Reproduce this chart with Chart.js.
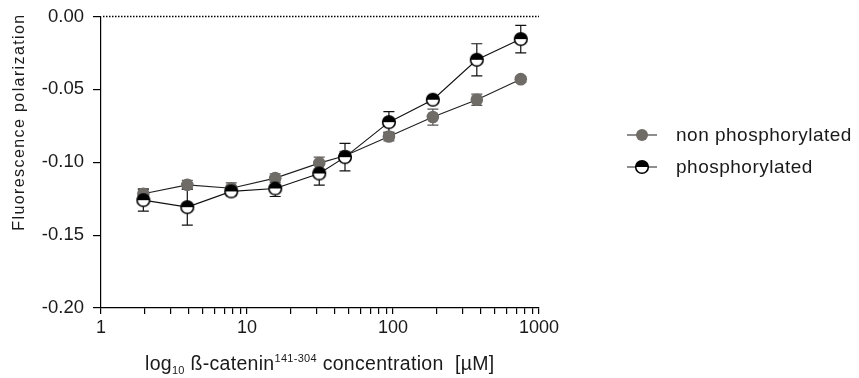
<!DOCTYPE html>
<html><head><meta charset="utf-8">
<script src="https://cdn.jsdelivr.net/npm/chart.js@4.4.1/dist/chart.umd.min.js"></script>
<style>html,body{margin:0;padding:0;background:#fff;}#wrap{width:859px;height:378px;}</style>
</head><body><div id="wrap"><canvas id="c" width="859" height="378"></canvas></div>
<script>
// ---- data ----
const concentrations = [1.95, 3.9, 7.8, 15.6, 31.25, 46.9, 93.75, 187.5, 375, 750];
const nonPhosValues  = [-0.1216, -0.1155, -0.1178, -0.1109, -0.1006, -0.0955, -0.0823, -0.0690, -0.0571, -0.0430];
const nonPhosErrors  = [0.0032, 0.0030, 0.0036, 0.0030, 0.0041, 0.0030, 0.0030, 0.0055, 0.0039, 0.0020];
const phosValues     = [-0.1260, -0.1308, -0.1200, -0.1180, -0.1077, -0.0965, -0.0725, -0.0571, -0.0297, -0.0155];
const phosErrors     = [0.0075, 0.0124, 0.0030, 0.0055, 0.0080, 0.0094, 0.0073, 0.0020, 0.0110, 0.0094];
const seriesLabels   = ['non phosphorylated', 'phosphorylated'];
const xTickLabels    = [1, 10, 100, 1000];
const yTickValues    = [0, -0.05, -0.10, -0.15, -0.20];

const FONT = "'Liberation Sans', Arial, sans-serif";
const GRAY = '#6f6b67';
const TEXT = '#1a1a1a';

// half-filled marker image
function makeHalfMarker(r) {
  const s = Math.ceil(r * 2 + 3);
  const cv = document.createElement('canvas');
  cv.width = s; cv.height = s;
  const g = cv.getContext('2d');
  const c = s / 2;
  g.beginPath(); g.arc(c, c, r, 0, Math.PI * 2); g.fillStyle = '#fff'; g.fill();
  g.beginPath(); g.arc(c, c, r, Math.PI, Math.PI * 2); g.closePath(); g.fillStyle = '#000'; g.fill();
  g.beginPath(); g.arc(c, c, r, 0, Math.PI * 2); g.lineWidth = 1.6; g.strokeStyle = '#000'; g.stroke();
  return cv;
}
const halfMarker = makeHalfMarker(6.3);

const errorBars = {
  id: 'errorBars',
  beforeDatasetsDraw(chart) {
    const ctx = chart.ctx, ys = chart.scales.y;
    chart.data.datasets.forEach((ds, di) => {
      const meta = chart.getDatasetMeta(di);
      ctx.save();
      ctx.strokeStyle = ds.errorColor; ctx.lineWidth = 1.2;
      meta.data.forEach((pt, i) => {
        const v = ds.data[i].y, e = ds.errors[i];
        const y1 = ys.getPixelForValue(v + e), y2 = ys.getPixelForValue(v - e);
        const x = pt.x;
        ctx.beginPath();
        ctx.moveTo(x, y1); ctx.lineTo(x, y2);
        ctx.moveTo(x - 5.5, y1); ctx.lineTo(x + 5.5, y1);
        ctx.moveTo(x - 5.5, y2); ctx.lineTo(x + 5.5, y2);
        ctx.stroke();
      });
      ctx.restore();
    });
  }
};

const decorations = {
  id: 'decorations',
  afterDraw(chart) {
    const ctx = chart.ctx, ca = chart.chartArea, ys = chart.scales.y;
    // dotted zero line
    ctx.save();
    const y0 = ys.getPixelForValue(0);
    ctx.strokeStyle = '#000'; ctx.lineWidth = 1.6; ctx.setLineDash([1.5, 1.5]);
    ctx.beginPath(); ctx.moveTo(ca.left + 2, y0); ctx.lineTo(ca.right, y0); ctx.stroke();
    ctx.restore();

    // y title
    ctx.save();
    ctx.translate(20, 122);
    ctx.rotate(-Math.PI / 2);
    ctx.font = '16px ' + FONT; ctx.fillStyle = TEXT;
    ctx.letterSpacing = '1.4px';
    ctx.textAlign = 'center'; ctx.textBaseline = 'middle';
    ctx.fillText('Fluorescence polarization', 0, 0);
    ctx.restore();

    // x title with sub/superscript
    ctx.save();
    ctx.fillStyle = TEXT; ctx.textBaseline = 'alphabetic';
    let x = 145; const base = 370;
    const seg = (t, size, dy, sp) => {
      ctx.font = size + 'px ' + FONT;
      ctx.letterSpacing = sp + 'px';
      ctx.fillText(t, x, base + dy);
      x += ctx.measureText(t).width;
    };
    seg('log', 19.5, 0, 0.3);
    seg('10', 11, 4, 0.3);
    seg(' ß-catenin', 19.5, 0, 0.3);
    seg('141-304', 11, -8, 0.3);
    seg(' concentration  [µM]', 19.5, 0, 0.3);
    ctx.restore();

    // legend
    ctx.save();
    chart.data.datasets.forEach((ds, i) => {
      const ry = 135 + i * 32;
      ctx.strokeStyle = '#444'; ctx.lineWidth = 1.2;
      ctx.beginPath(); ctx.moveTo(627, ry); ctx.lineTo(657, ry); ctx.stroke();
      if (ds.pointStyle === 'circle') {
        ctx.beginPath(); ctx.arc(642, ry, 6, 0, Math.PI * 2);
        ctx.fillStyle = ds.pointBackgroundColor; ctx.fill();
      } else {
        ctx.drawImage(ds.pointStyle, 642 - ds.pointStyle.width / 2, ry - ds.pointStyle.height / 2);
      }
      ctx.font = '19px ' + FONT; ctx.fillStyle = TEXT;
      ctx.letterSpacing = '0.5px';
      ctx.textBaseline = 'middle'; ctx.textAlign = 'left';
      ctx.fillText(ds.label, 676, ry + 1);
      ctx.letterSpacing = '0px';
    });
    ctx.restore();
  }
};

const toPts = (vals) => vals.map((v, i) => ({ x: concentrations[i], y: v }));

new Chart(document.getElementById('c'), {
  type: 'line',
  data: {
    datasets: [
      {
        label: seriesLabels[0], data: toPts(nonPhosValues), errors: nonPhosErrors, errorColor: '#555',
        borderColor: '#222', borderWidth: 1.1, pointStyle: 'circle', pointRadius: 6.3,
        pointBackgroundColor: GRAY, pointBorderColor: GRAY, pointBorderWidth: 0, order: 1, tension: 0
      },
      {
        label: seriesLabels[1], data: toPts(phosValues), errors: phosErrors, errorColor: '#111',
        borderColor: '#111', borderWidth: 1.1, pointStyle: halfMarker, pointRadius: 6.3, order: 0, tension: 0
      }
    ]
  },
  options: {
    responsive: false, devicePixelRatio: 1, animation: false, events: [],
    layout: { padding: { top: 16.5, right: 320, bottom: 0, left: 0 } },
    plugins: { legend: { display: false }, tooltip: { enabled: false } },
    scales: {
      x: {
        type: 'logarithmic', min: 1, max: 1000, position: 'bottom',
        border: { display: true, color: '#000', width: 1.2 },
        grid: { display: true, drawOnChartArea: false, drawTicks: true, tickLength: 6, color: '#000', lineWidth: 1.2 },
        ticks: {
          autoSkip: false, maxRotation: 0, padding: 3, color: TEXT,
          font: { family: FONT, size: 18 },
          callback: (v) => xTickLabels.includes(v) ? String(v) : ''
        },
        afterBuildTicks: (s) => {
          const t = [];
          for (let d = 1; d < 1000; d *= 10) for (let m = 1; m < 10; m++) t.push({ value: m * d, major: m === 1 });
          t.push({ value: 1000, major: true });
          s.ticks = t;
        },
        afterFit: (s) => { s.height = 70; s.paddingLeft = 0; s.paddingRight = 0; }
      },
      y: {
        min: -0.2, max: 0,
        border: { display: true, color: '#000', width: 1.2 },
        grid: { display: true, drawOnChartArea: false, drawTicks: true, tickLength: 8, color: '#000', lineWidth: 1.2 },
        ticks: {
          padding: 9, color: TEXT, font: { family: FONT, size: 18.5 },
          callback: (v) => Math.abs(v) < 1e-9 ? '0.00' : v.toFixed(2)
        },
        afterBuildTicks: (s) => { s.ticks = yTickValues.map(v => ({ value: v })); },
        afterFit: (s) => { s.width = 101; s.paddingTop = 0; s.paddingBottom = 0; }
      }
    }
  },
  plugins: [errorBars, decorations]
});
</script>
</body></html>
